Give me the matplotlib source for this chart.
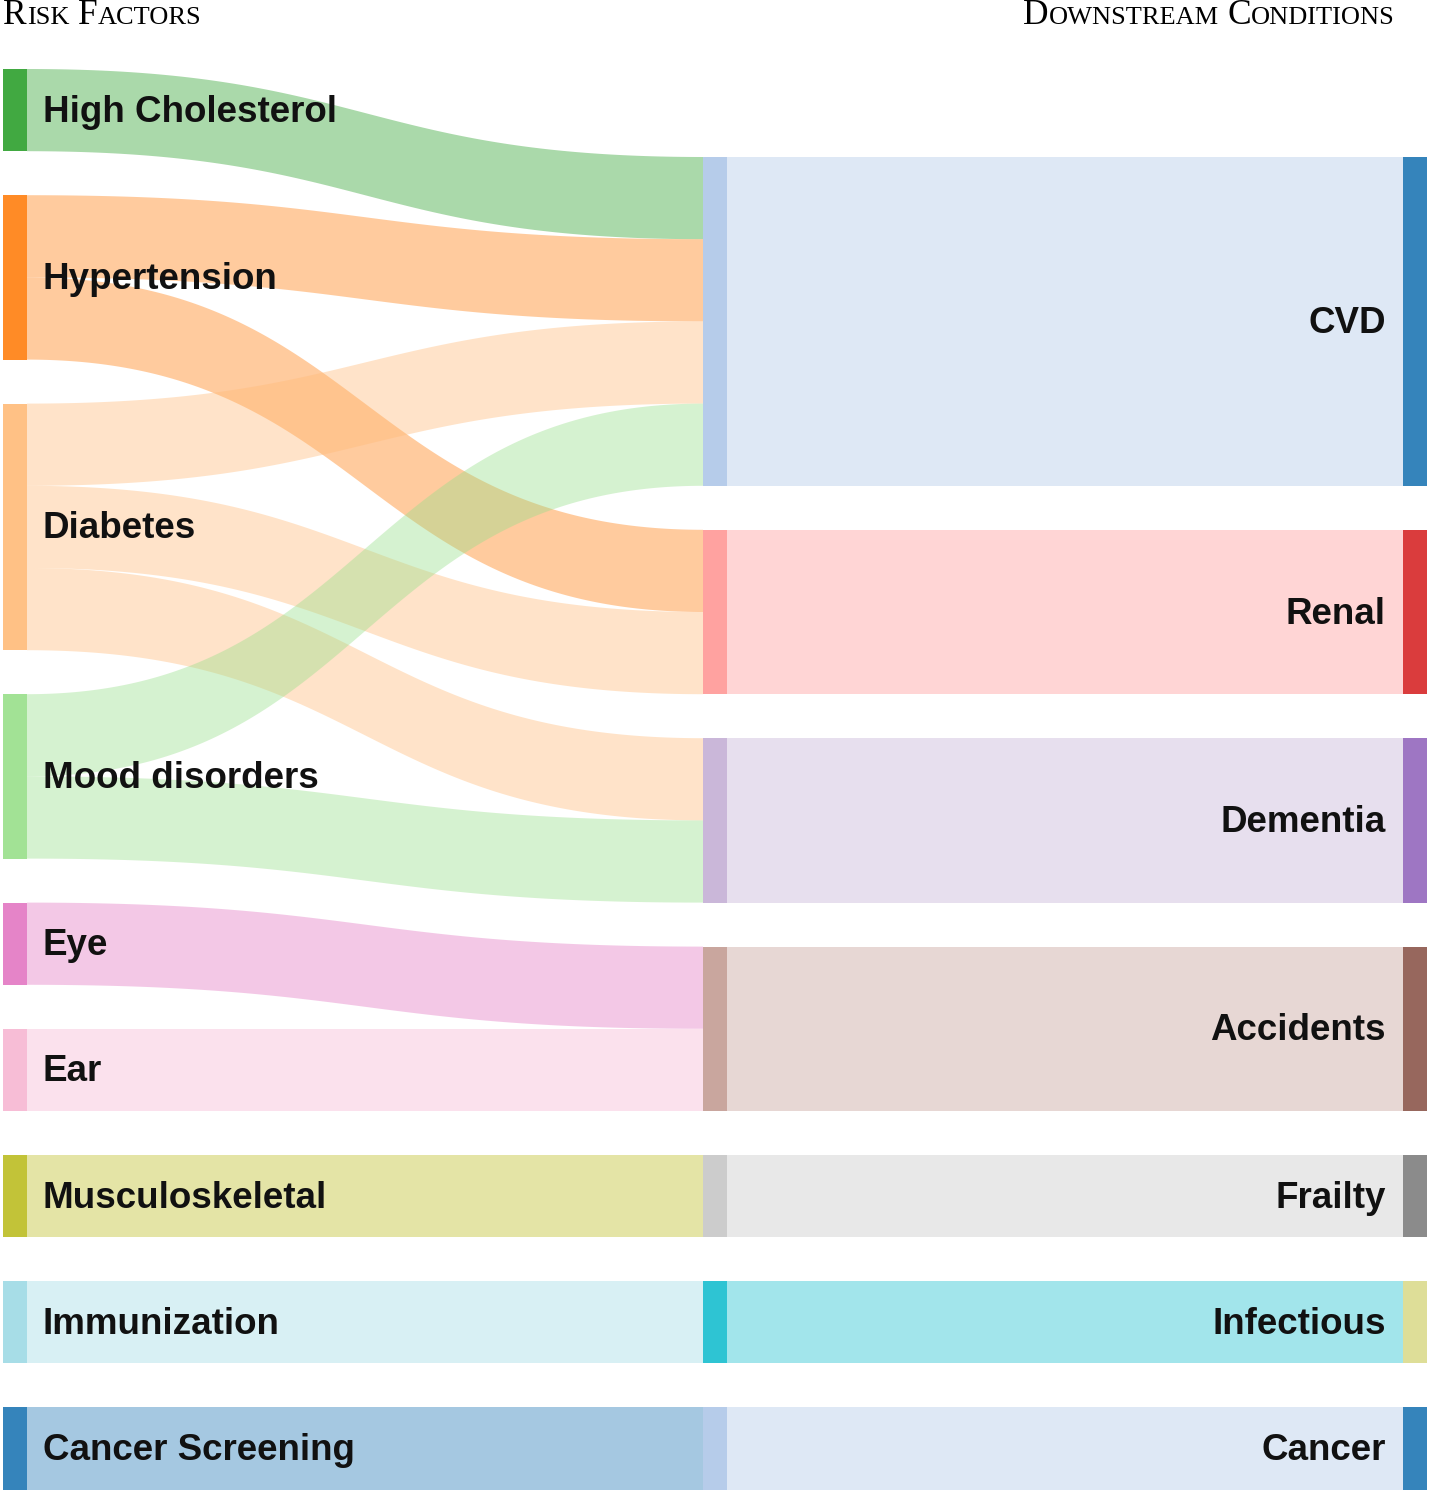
import numpy as np
import matplotlib
matplotlib.use("Agg")
import matplotlib.pyplot as plt

# risk factors (left) and conditions (right), values are flow units
left_names = ["High Cholesterol", "Hypertension", "Diabetes", "Mood disorders",
              "Eye", "Ear", "Musculoskeletal", "Immunization", "Cancer Screening"]
left_colors = ["#2ca02c", "#ff7f0e", "#ffbb78", "#98df8a",
               "#e377c2", "#f7b6d2", "#bcbd22", "#9edae5", "#1f77b4"]

right_names = ["CVD", "Renal", "Dementia", "Accidents", "Frailty", "Infectious", "Cancer"]
mid_colors = ["#aec7e8", "#ff9896", "#c5b0d5", "#c49c94", "#c7c7c7", "#17becf", "#aec7e8"]
bar_colors = ["#1f77b4", "#d62728", "#9467bd", "#8c564b", "#7f7f7f", "#dbdb8d", "#1f77b4"]

# (source, target, value)
flows = [
    ("High Cholesterol", "CVD", 1),
    ("Hypertension", "CVD", 1),
    ("Hypertension", "Renal", 1),
    ("Diabetes", "CVD", 1),
    ("Diabetes", "Renal", 1),
    ("Diabetes", "Dementia", 1),
    ("Mood disorders", "CVD", 1),
    ("Mood disorders", "Dementia", 1),
    ("Eye", "Accidents", 1),
    ("Ear", "Accidents", 1),
    ("Musculoskeletal", "Frailty", 1),
    ("Immunization", "Infectious", 1),
    ("Cancer Screening", "Cancer", 1),
]

W, H = 1429, 1493
unit = 82.2      # px per flow unit
gap = 44 / unit  # node gap in units
top_px = 69

fig = plt.figure(figsize=(W / 100, H / 100), dpi=100)
ax = fig.add_axes([0, 0, 1, 1])
ax.set_xlim(0, W)
ax.set_ylim((H - top_px) / unit, -top_px / unit)
ax.axis("off")

lval = {n: sum(v for s, t, v in flows if s == n) for n in left_names}
rval = {n: sum(v for s, t, v in flows if t == n) for n in right_names}

# stack nodes
lpos = {}
y = 0
for n in left_names:
    lpos[n] = y
    y += lval[n] + gap
ltotal = y - gap
rtot = sum(rval.values()) + gap * (len(right_names) - 1)
rpos = {}
y = ltotal - rtot
for n in right_names:
    rpos[n] = y
    y += rval[n] + gap

x0, x1 = 27, 703   # flow ends
nw = 24
xr = 1403
node_alpha = 0.9
dy = 2 / unit      # label nudge

# flows
lcur = dict(lpos)
rcur = dict(rpos)
t = np.linspace(0, 1, 200)
for s, tg, v in flows:
    ya, yb = lcur[s], rcur[tg]
    lcur[s] += v
    rcur[tg] += v
    xm = (x0 + x1) / 2
    bx = (1 - t) ** 3 * x0 + 3 * (1 - t) ** 2 * t * xm + 3 * (1 - t) * t ** 2 * xm + t ** 3 * x1
    by = (1 - t) ** 3 + 3 * (1 - t) ** 2 * t
    top = ya * by + yb * (1 - by)
    c = left_colors[left_names.index(s)]
    ax.fill(np.concatenate([bx, bx[::-1]]), np.concatenate([top, (top + v)[::-1]]),
            color=c, alpha=0.4, lw=0)

# left nodes + labels
for n, c in zip(left_names, left_colors):
    ax.add_patch(plt.Rectangle((3, lpos[n]), nw, lval[n], color=c, alpha=node_alpha, lw=0))
    ax.text(43, lpos[n] + lval[n] / 2 + dy, n, fontsize=26.5, fontweight="bold",
            family="Liberation Sans", va="center", ha="left", color="#111111")

# right nodes, bands, bars, labels
for n, mc, bc in zip(right_names, mid_colors, bar_colors):
    yy, hh = rpos[n], rval[n]
    ax.add_patch(plt.Rectangle((x1, yy), nw, hh, color=mc, alpha=node_alpha, lw=0))
    ax.add_patch(plt.Rectangle((x1 + nw, yy), xr - x1 - nw, hh, color=mc, alpha=0.4, lw=0))
    ax.add_patch(plt.Rectangle((xr, yy), nw, hh, color=bc, alpha=node_alpha, lw=0))
    ax.text(1386, yy + hh / 2 + dy, n, fontsize=26.5, fontweight="bold",
            family="Liberation Sans", va="center", ha="right", color="#111111")


# small caps headers
def smallcaps(x, ypx, s, ha="left", big=25.5, small=19):
    yb = (ypx - top_px) / unit
    arts = []
    for w in s.split():
        arts.append(ax.text(0, yb, w[0], fontsize=big, family="Liberation Serif", va="baseline"))
        arts.append(ax.text(0, yb, w[1:].upper(), fontsize=small, family="Liberation Serif", va="baseline"))
        arts.append(None)
    arts = arts[:-1]
    fig.canvas.draw()
    r = fig.canvas.get_renderer()
    sp = big * 100 / 72 * 0.25
    widths = [a.get_window_extent(r).width if a is not None else sp for a in arts]
    total = sum(widths)
    cx = x if ha == "left" else x - total
    for a, wd in zip(arts, widths):
        if a is not None:
            a.set_x(cx)
        cx += wd


smallcaps(3, 24, "Risk Factors")
smallcaps(1395, 24, "Downstream Conditions", ha="right")

fig.savefig("out.png", dpi=100)
